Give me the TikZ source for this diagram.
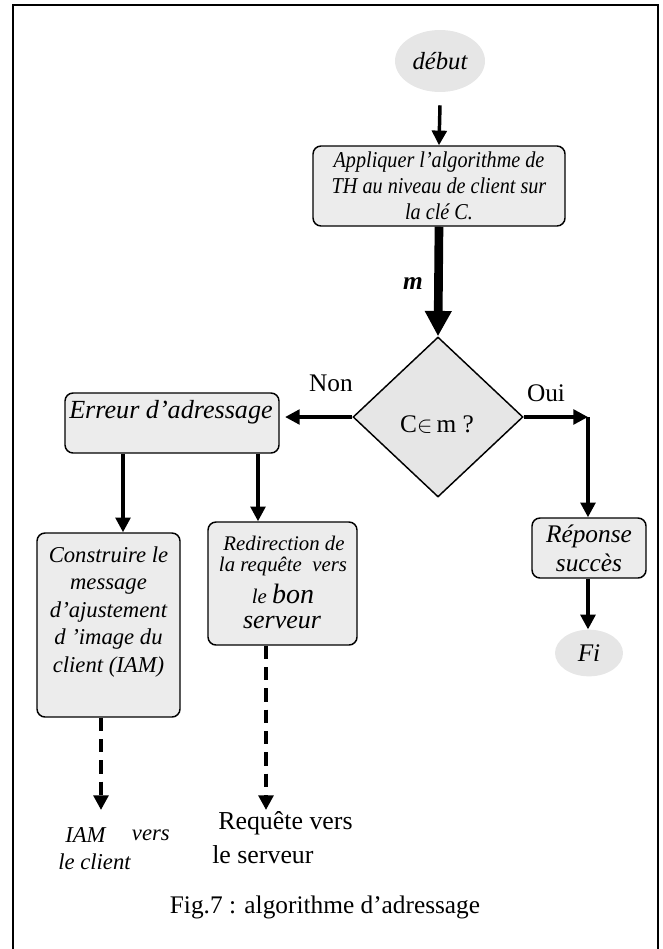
\documentclass[tikz,border=0pt]{standalone}
\usepackage{fontspec}
\setmainfont{Liberation Serif}
\newfontfamily\narrowserif[FakeStretch=0.89]{Liberation Serif}
\usetikzlibrary{arrows.meta,shapes.geometric,calc}
\definecolor{boxgray}{RGB}{236,236,236}
\definecolor{ovalgray}{RGB}{230,230,230}
\newcommand{\myfs}[1]{\fontsize{#1}{#1}\selectfont}
\begin{document}
\begin{tikzpicture}[x=0.75pt,y=-0.75pt,
  box/.style={draw=black, line width=1.1pt, fill=boxgray, rounded corners=6pt, inner sep=0pt},
  oval/.style={ellipse, fill=ovalgray, draw=none, inner sep=0pt},
  arr/.style={line width=2.6pt, -{Triangle[width=11pt,length=11pt]}},
  marr/.style={line width=6.5pt, -{Triangle[width=19pt,length=19pt]}},
  darr/.style={line width=3pt, dash pattern=on 10pt off 6pt, -{Triangle[width=11pt,length=11pt]}},
  lbl/.style={inner sep=0pt}
]
\useasboundingbox (0,0) rectangle (662,949);
\draw[line width=2.2pt] (13,949) -- (13,5);
\draw[line width=1.6pt] (12,5) -- (658,5) -- (658,949);

% start
\node[oval, minimum width=67.5pt, minimum height=46.5pt, font=\myfs{18.5}\itshape] (debut) at (440,61) {début};

% first process
\node[box, minimum width=189pt, minimum height=60pt, align=center,
      font={\narrowserif\fontsize{17}{19.5}\selectfont\itshape}] (b1) at (439,186)
  {Appliquer l’algorithme de\\TH au niveau de client sur\\la clé C.};

% decision
\node[diamond, draw=black, line width=1.1pt, fill=ovalgray, minimum width=127.5pt,
      minimum height=120pt, inner sep=0pt, aspect=1.0625] (dec) at (438,417) {};
\node[lbl, font=\myfs{19}] (dectxt) at (437,425) {C$\mathord{\in}$\,m ?};

\node[lbl, font=\myfs{19}\bfseries\itshape] (mlbl) at (413,284) {m};
\node[lbl, font=\myfs{19}] (non) at (331,383) {Non};
\node[lbl, font=\myfs{19}] (oui) at (546,393) {Oui};

% error box
\node[box, minimum width=160.5pt, minimum height=45pt] (err) at (172,423) {};
\node[lbl, font=\myfs{19.6}\itshape] (errtxt) at (171,412) {Erreur d’adressage};

% construire box
\node[box, minimum width=107.25pt, minimum height=138pt] (cons) at (108.5,625) {};
\node[lbl, align=center, font={\fontsize{17}{20.6}\selectfont\itshape}] (constxt) at (108.5,612)
  {Construire le\\message\\d’ajustement\\d ’image du\\client (IAM)};

% redirection box
\node[box, minimum width=111.75pt, minimum height=92.25pt] (red) at (282.5,583.5) {};
\node[lbl, font=\myfs{15.6}\itshape] (r1) at (284,543) {Redirection de};
\node[lbl, font=\myfs{15.6}\itshape] (r2) at (283,566) {la requête\ \ vers};
\node[lbl, font=\myfs{15.6}\itshape] (r3) at (283,594) {le {\myfs{21}bon}};
\node[lbl, font=\myfs{19.5}\itshape] (r4) at (282,623) {serveur};

% response box
\node[box, minimum width=85.5pt, minimum height=45pt, align=center,
      font={\fontsize{19}{21.75}\selectfont\itshape}] (rep) at (589,548) {Réponse\\succès};

% end
\node[oval, minimum width=51pt, minimum height=35pt, font=\myfs{19}\itshape] (fi) at (589,653) {Fi};

% connectors
\draw[arr] ([yshift=-9.75pt]debut.south) -- (b1.north);
\draw[marr] (b1.south) -- (dec.north);
\draw[arr, shorten >=4pt] (dec.west) -- (err.east |- dec.west);
\coordinate (corner) at (588,417);
\draw[arr] (dec.east) -- (corner);
\draw[arr] (corner) -- (rep.north -| corner);
\draw[arr] (rep.south -| corner) -- (fi.north -| corner);

\coordinate (x1) at (123,0);
\coordinate (x2) at (258,0);
\draw[arr] (err.south -| x1) -- (cons.north -| x1);
\draw[arr] (err.south -| x2) -- (red.north -| x2);

\coordinate (d1) at (101,810);
\coordinate (d2) at (266,810);
\draw[darr] (cons.south -| d1) -- (d1);
\draw[darr] (red.south -| d2) -- (d2);

% outputs
\node[lbl, anchor=west, font=\myfs{17}\itshape] (iam1) at (65,835) {IAM};
\node[lbl, anchor=east, font=\myfs{17}\itshape] (iam2) at (170,835) {vers};
\node[lbl, anchor=west, font=\myfs{17}\itshape] (iam3) at (58,862) {le client};
\node[lbl, anchor=west, font=\myfs{19.4}] (req1) at (218,823) {Requête vers};
\node[lbl, anchor=west, font=\myfs{19.4}] (req2) at (212,855) {le serveur};

% caption
\node[lbl, font=\myfs{19}] (cap) at (325,907) {Fig.7 : algorithme d’adressage};
\end{tikzpicture}
\end{document}
